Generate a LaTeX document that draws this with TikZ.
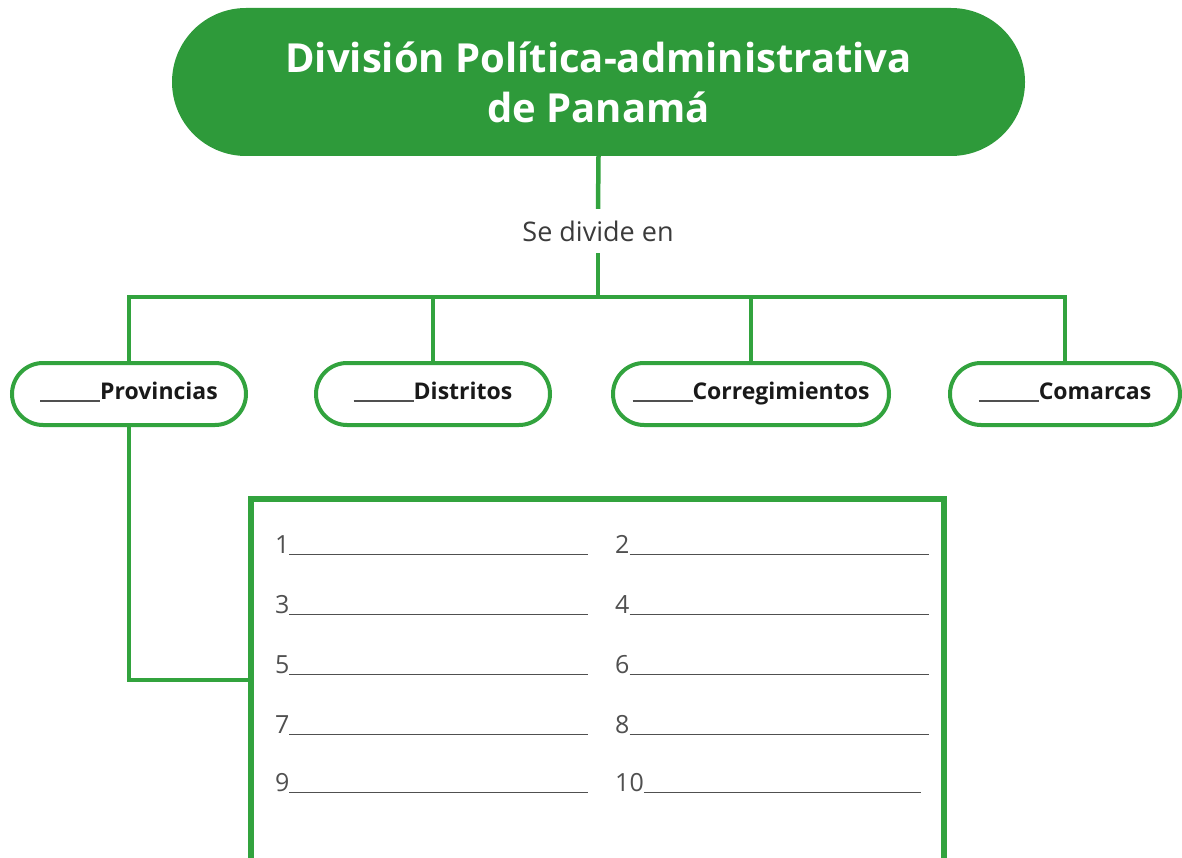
\documentclass[tikz,border=0pt]{standalone}
\usepackage{fontspec}
\setmainfont{Open Sans}
\usetikzlibrary{shapes.misc}
\definecolor{gfill}{RGB}{46,154,58}
\definecolor{gline}{RGB}{50,163,62}
\definecolor{txt}{RGB}{25,25,25}
\definecolor{gtxt}{RGB}{80,80,80}
\tikzset{
  titlebox/.style={rounded rectangle, fill=gfill, minimum width=853pt, minimum height=148pt, inner sep=0pt, text=white, font=\fontsize{40}{50}\selectfont\bfseries, align=center},
  pill/.style={rounded rectangle, draw=gline, line width=4pt, fill=white, minimum height=62pt, inner sep=0pt, text height=17pt, text depth=6pt, font=\fontsize{23}{26}\selectfont\bfseries, text=txt},
  conn/.style={draw=gline, line width=4.5pt},
  listbox/.style={draw=gline, line width=4pt, fill=white, minimum width=691pt, minimum height=420pt, inner sep=0pt},
  blank/.style={anchor=base west, inner sep=0pt, font=\fontsize{25}{30}\selectfont, text=gtxt},
  lbl/.style={font=\fontsize{27}{30}\selectfont, text=txt!85, inner sep=0pt, minimum height=44pt}
}
\newcommand{\gap}[1]{{\color{gtxt}\rule[-2pt]{#1}{1.3pt}}}
\begin{document}
\begin{tikzpicture}[x=1pt,y=-1pt]
\useasboundingbox (0,0) rectangle (1182,858);
\clip (0,0) rectangle (1182,858);
\node[titlebox] (title) at (598.5,82) {División Política-administrativa\\de Panamá};
\node[lbl] (sd) at (598,231) {Se divide en};
\coordinate (j) at (598,297);
\node[pill, minimum width=234pt] (prov) at (129,394) {\gap{60pt}Provincias};
\node[pill, minimum width=234pt] (dist) at (433,394) {\gap{60pt}Distritos};
\node[pill, minimum width=276pt] (corr) at (751,394) {\gap{60pt}Corregimientos};
\node[pill, minimum width=230pt] (coma) at (1065,394) {\gap{60pt}Comarcas};
\node[listbox] (box) at (597.5,710) {};
\coordinate (bj) at (252,680);
\draw[conn] (title.south) -- (sd.north);
\draw[conn] (sd.south) -- (j);
\draw[conn] (prov.north) |- (j) -| (coma.north);
\draw[conn] (dist.north) -- (dist.north |- j);
\draw[conn] (corr.north) -- (corr.north |- j);
\draw[conn] (prov.south) |- (bj);
\draw[draw=gline, line width=4pt] (box.south west) -- (box.north west) -- (box.north east) -- (box.south east);
\node[blank] (n1) at (275,553) {1\gap{299pt}};
\node[blank] (n2) at (615,553) {2\gap{299pt}};
\node[blank] (n3) at (275,613) {3\gap{299pt}};
\node[blank] (n4) at (615,613) {4\gap{299pt}};
\node[blank] (n5) at (275,673) {5\gap{299pt}};
\node[blank] (n6) at (615,673) {6\gap{299pt}};
\node[blank] (n7) at (275,733) {7\gap{299pt}};
\node[blank] (n8) at (615,733) {8\gap{299pt}};
\node[blank] (n9) at (275,791) {9\gap{299pt}};
\node[blank] (n10) at (615,791) {10\gap{277pt}};
\end{tikzpicture}
\end{document}
